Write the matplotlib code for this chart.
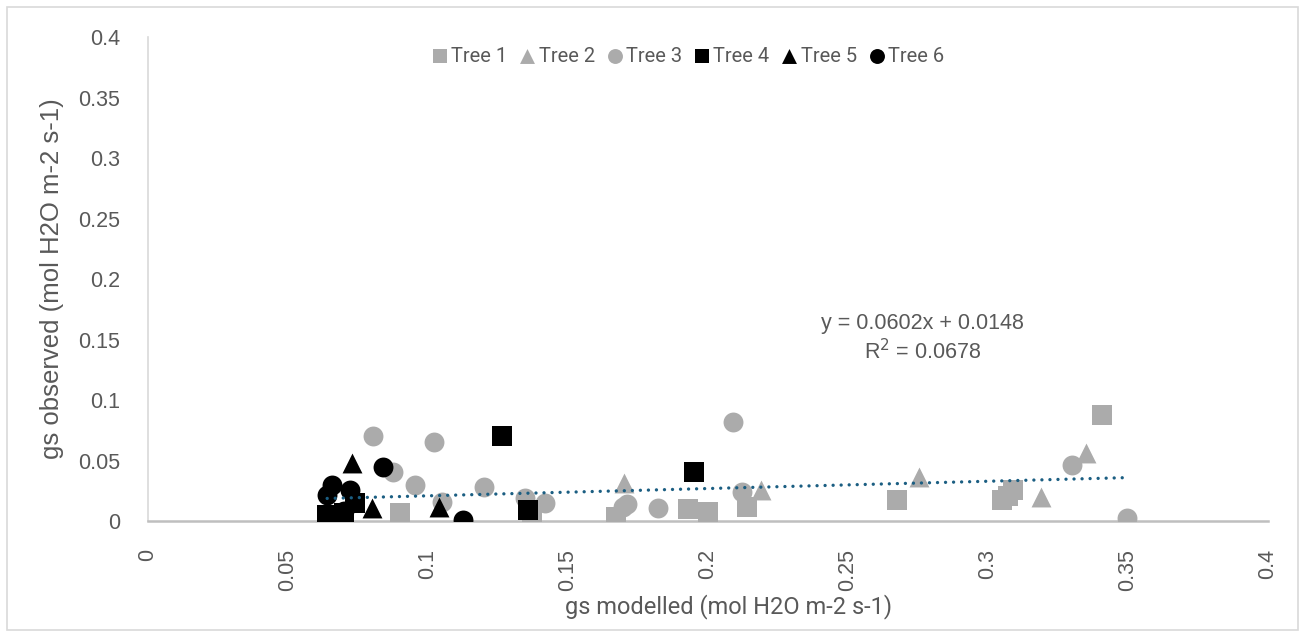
import numpy as np
import matplotlib.pyplot as plt
from matplotlib.patches import Rectangle

# data
tree1_x = [0.067, 0.090, 0.137, 0.167, 0.193, 0.200, 0.214, 0.2675, 0.305, 0.307, 0.309, 0.3407]
tree1_y = [0.000, 0.0066, 0.001, 0.0033, 0.010, 0.0074, 0.0116, 0.0174, 0.017, 0.021, 0.0256, 0.0876]

tree2_x = [0.070, 0.170, 0.219, 0.2754, 0.319, 0.335]
tree2_y = [0.001, 0.031, 0.0256, 0.036, 0.020, 0.056]

tree3_x = [0.0804, 0.0875, 0.0954, 0.102, 0.105, 0.120, 0.1346, 0.1418, 0.1696, 0.171, 0.182, 0.209, 0.212, 0.330, 0.3496]
tree3_y = [0.070, 0.0405, 0.030, 0.0655, 0.0157, 0.028, 0.019, 0.015, 0.0116, 0.014, 0.0107, 0.082, 0.024, 0.046, 0.0025]

tree4_x = [0.064, 0.070, 0.074, 0.1264, 0.1357, 0.195]
tree4_y = [0.005, 0.007, 0.015, 0.070, 0.009, 0.0405]

tree5_x = [0.0729, 0.080, 0.104]
tree5_y = [0.048, 0.011, 0.0116]

tree6_x = [0.0657, 0.064, 0.072, 0.070, 0.084, 0.1125]
tree6_y = [0.030, 0.0215, 0.0256, 0.008, 0.0446, 0.001]

slope = 0.0602
intercept = 0.0148
r2 = 0.0678

GRAY = '#ABABAB'
TXT = '#595959'
narrow = ['Roboto', 'DejaVu Sans']
plt.rcParams['font.family'] = ['Liberation Sans', 'DejaVu Sans']

fig = plt.figure(figsize=(13.06, 6.37), dpi=100)
ax = fig.add_axes([0.1133, 0.1821, 0.8576, 0.7598])

series = [
    (tree1_x, tree1_y, 's', GRAY, 'Tree 1'),
    (tree2_x, tree2_y, '^', GRAY, 'Tree 2'),
    (tree3_x, tree3_y, 'o', GRAY, 'Tree 3'),
    (tree4_x, tree4_y, 's', 'black', 'Tree 4'),
    (tree5_x, tree5_y, '^', 'black', 'Tree 5'),
    (tree6_x, tree6_y, 'o', 'black', 'Tree 6'),
]
for x, y, m, c, lab in series:
    ax.scatter(x, y, marker=m, s=205, color=c, linewidths=0, label=lab, zorder=3)

# linear trendline over the data range
allx = np.concatenate([tree1_x, tree2_x, tree3_x, tree4_x, tree5_x, tree6_x])
tx = np.array([allx.min(), allx.max()])
ax.plot(tx, slope * tx + intercept, color='#1B5E82', lw=2.4,
        linestyle=(0, (0.01, 2.4)), dash_capstyle='round', zorder=4)

ax.text(0.2765, 0.163, 'y = %.4fx + %.4f' % (slope, intercept), ha='center', va='center',
        fontsize=15.5, color=TXT)
ax.text(0.2765, 0.140, 'R$^2$ = %.4f' % r2, ha='center', va='center',
        fontsize=15.5, color=TXT)

ax.set_xlim(0, 0.4)
ax.set_ylim(0, 0.4)
ticks = [0, 0.05, 0.1, 0.15, 0.2, 0.25, 0.3, 0.35, 0.4]
labels = ['0', '0.05', '0.1', '0.15', '0.2', '0.25', '0.3', '0.35', '0.4']
ax.set_xticks(ticks)
ax.set_xticklabels(labels, rotation=90)
ax.set_yticks(ticks)
ax.set_yticklabels(labels)
ax.tick_params(length=0, labelsize=15.5, labelcolor=TXT)
ax.tick_params(axis='y', pad=20)
ax.tick_params(axis='x', pad=20)

for s in ['top', 'right']:
    ax.spines[s].set_visible(False)
ax.spines['bottom'].set_color('#BFBFBF')
ax.spines['bottom'].set_linewidth(1.8)
ax.spines['left'].set_color('#D9D9D9')
ax.spines['left'].set_linewidth(1.2)

ax.set_xlabel('gs modelled (mol H2O m-2 s-1)', fontsize=17, color=TXT, family=narrow)
ax.xaxis.set_label_coords(0.518, -0.152)
ax.set_ylabel('gs observed (mol H2O m-2 s-1)', fontsize=18.5, color=TXT, labelpad=10)

leg = fig.legend(loc='center', bbox_to_anchor=(0.526, 0.912), ncol=6, frameon=False,
                 prop={'family': narrow, 'size': 14.5}, handletextpad=0.05, columnspacing=0.5,
                 markerscale=0.75, handlelength=1.0)
for t in leg.get_texts():
    t.set_color(TXT)

fig.patches.append(Rectangle((0.005, 0.011), 0.989, 0.978, transform=fig.transFigure,
                             fill=False, edgecolor='#D9D9D9', lw=1.2))

fig.savefig('out.png', dpi=100)
